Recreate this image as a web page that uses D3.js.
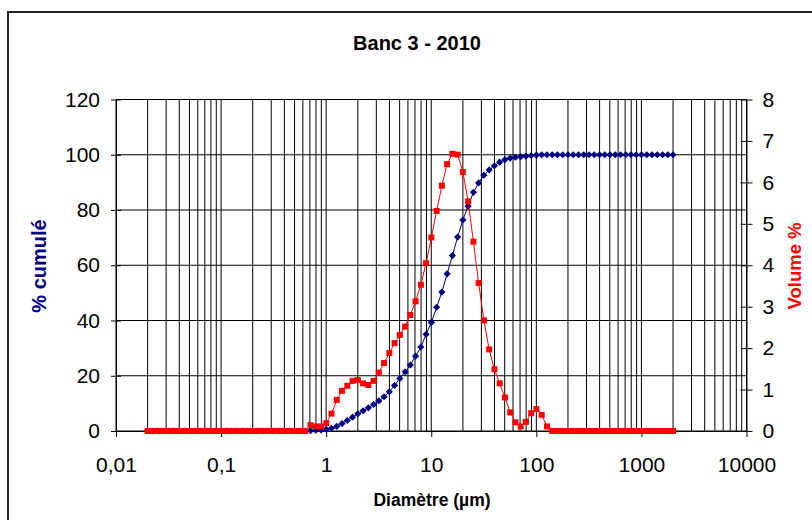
<!DOCTYPE html>
<html>
<head>
<meta charset="utf-8">
<script src="https://cdn.jsdelivr.net/npm/d3@7"></script>
<style>
  html, body { margin: 0; padding: 0; background: #fff; }
  svg { display: block; font-family: "Liberation Sans", Arial, sans-serif; }
</style>
</head>
<body>
<svg id="chart" width="812" height="520"></svg>
<script>
// ---- Data ----
const diameters = [
  0.02, 0.0224, 0.0252, 0.0283, 0.0317, 0.0356, 0.0399, 0.0448, 0.0502, 0.0564,
  0.0632, 0.071, 0.0796, 0.0893, 0.1002, 0.1125, 0.1262, 0.1416, 0.1589, 0.1783,
  0.2, 0.2244, 0.2518, 0.2825, 0.317, 0.3557, 0.3991, 0.4477, 0.5024, 0.5637,
  0.6325, 0.7096, 0.7962, 0.8934, 1.0024, 1.1247, 1.2619, 1.4159, 1.5887, 1.7825,
  2, 2.244, 2.518, 2.825, 3.17, 3.557, 3.991, 4.477, 5.024, 5.637,
  6.325, 7.096, 7.962, 8.934, 10.024, 11.247, 12.619, 14.159, 15.887, 17.825,
  20, 22.44, 25.179, 28.251, 31.698, 35.566, 39.905, 44.774, 50.238, 56.368,
  63.246, 70.963, 79.621, 89.337, 100.237, 112.468, 126.191, 141.589, 158.866, 178.25,
  200, 224.404, 251.785, 282.508, 316.979, 355.656, 399.052, 447.744, 502.377, 563.677,
  632.456, 709.627, 796.214, 893.367, 1002.374, 1124.683, 1261.915, 1415.892, 1588.656, 1782.502,
  2000
];
const cumulative = [
  0, 0, 0, 0, 0, 0, 0, 0, 0, 0,
  0, 0, 0, 0, 0, 0, 0, 0, 0, 0,
  0, 0, 0, 0, 0, 0, 0, 0, 0, 0,
  0, 0.1, 0.3, 0.4, 0.6, 1.0, 1.7, 2.7, 3.8, 5.0,
  6.2, 7.3, 8.4, 9.6, 10.9, 12.4, 14.2, 16.5, 19.0, 21.4,
  23.9, 27.1, 30.4, 35.0, 39.3, 44.8, 50.3, 56.9, 63.5, 70.2,
  76.4, 81.4, 86.4, 89.8, 92.6, 94.5, 96.0, 97.3, 98.2, 98.8,
  99.1, 99.3, 99.5, 99.7, 99.9, 100, 100, 100, 100, 100,
  100, 100, 100, 100, 100, 100, 100, 100, 100, 100,
  100, 100, 100, 100, 100, 100, 100, 100, 100, 100,
  100
];
const volume = [
  0, 0, 0, 0, 0, 0, 0, 0, 0, 0,
  0, 0, 0, 0, 0, 0, 0, 0, 0, 0,
  0, 0, 0, 0, 0, 0, 0, 0, 0, 0,
  0, 0.14, 0.11, 0.11, 0.19, 0.42, 0.75, 0.97, 1.09, 1.21,
  1.23, 1.15, 1.11, 1.21, 1.41, 1.64, 1.88, 2.12, 2.32, 2.52,
  2.80, 3.13, 3.53, 4.05, 4.67, 5.31, 5.92, 6.44, 6.69, 6.67,
  6.25, 5.54, 4.57, 3.57, 2.67, 1.97, 1.49, 1.15, 0.81, 0.45,
  0.21, 0.11, 0.22, 0.43, 0.53, 0.39, 0.11, 0, 0, 0,
  0, 0, 0, 0, 0, 0, 0, 0, 0, 0,
  0, 0, 0, 0, 0, 0, 0, 0, 0, 0,
  0
];
const xTickValues = [0.01, 0.1, 1, 10, 100, 1000, 10000];
const xTickLabels = ["0,01", "0,1", "1", "10", "100", "1000", "10000"];
const yLeftTicks = [0, 20, 40, 60, 80, 100, 120];
const yRightTicks = [0, 1, 2, 3, 4, 5, 6, 7, 8];

const title = "Banc 3 - 2010";
const xTitle = "Diamètre (µm)";
const yLeftTitle = "% cumulé";
const yRightTitle = "Volume %";

const blue = "#000080", red = "#FF0000";

// ---- Scales ----
const svg = d3.select("#chart");
const x = d3.scaleLog().domain([0.01, 10000]).range([116, 746.5]);
const yL = d3.scaleLinear().domain([0, 120]).range([431, 99.5]);
const yR = d3.scaleLinear().domain([0, 8]).range([431, 99.5]);

// outer frame
svg.append("rect").attr("x", 8).attr("y", 12).attr("width", 820).attr("height", 530)
  .attr("fill", "none").attr("stroke", "#222").attr("stroke-width", 2);

// gridlines
const grid = svg.append("g");
grid.selectAll("line.v").data(x.ticks()).join("line")
  .attr("x1", d => x(d)).attr("x2", d => x(d))
  .attr("y1", yL(0)).attr("y2", yL(120))
  .attr("stroke", "#000").attr("stroke-width", 1);
grid.selectAll("line.h").data(yLeftTicks).join("line")
  .attr("x1", x(0.01)).attr("x2", x(10000))
  .attr("y1", d => yL(d)).attr("y2", d => yL(d))
  .attr("stroke", "#000").attr("stroke-width", 1);

// axes
function styleAxis(g) {
  g.select(".domain").attr("stroke", "#000").attr("stroke-width", 1);
  g.selectAll(".tick line").attr("stroke", "#000");
  g.selectAll(".tick text").attr("font-size", 21).attr("fill", "#000")
    .attr("font-family", "'Liberation Sans', Arial, sans-serif");
}
const axL = svg.append("g").attr("transform", `translate(${x(0.01)},0)`)
  .call(d3.axisLeft(yL).tickValues(yLeftTicks).tickSize(5).tickPadding(11).tickSizeOuter(0));
axL.selectAll(".tick line").attr("x1", 5);
styleAxis(axL);

const axR = svg.append("g").attr("transform", `translate(${x(10000)},0)`)
  .call(d3.axisRight(yR).tickValues(yRightTicks).tickSize(6).tickPadding(10).tickSizeOuter(0));
axR.selectAll(".tick line").attr("x1", -6);
styleAxis(axR);

const axB = svg.append("g").attr("transform", `translate(0,${yL(0)})`)
  .call(d3.axisBottom(x).tickValues(xTickValues).tickFormat((d, i) => xTickLabels[i])
    .tickSize(6).tickPadding(20).tickSizeOuter(0));
styleAxis(axB);

// series lines + markers
const lineB = d3.line().x((d, i) => x(diameters[i])).y(d => yL(d));
const lineR = d3.line().x((d, i) => x(diameters[i])).y(d => yR(d));

svg.append("path").datum(cumulative).attr("d", lineB)
  .attr("fill", "none").attr("stroke", blue).attr("stroke-width", 1);
svg.append("g").selectAll("path").data(cumulative).join("path")
  .attr("transform", (d, i) => `translate(${x(diameters[i])},${yL(d)})`)
  .attr("d", "M0,-3.6L3.6,0L0,3.6L-3.6,0Z").attr("fill", blue);

svg.append("path").datum(volume).attr("d", lineR)
  .attr("fill", "none").attr("stroke", red).attr("stroke-width", 1);
svg.append("g").selectAll("rect").data(volume).join("rect")
  .attr("x", (d, i) => x(diameters[i]) - 3).attr("y", d => yR(d) - 3)
  .attr("width", 6).attr("height", 6).attr("fill", red);

// titles
svg.append("text").attr("x", 417).attr("y", 50).attr("text-anchor", "middle")
  .attr("font-size", 20).attr("font-weight", "bold").text(title);
svg.append("text").attr("x", 432).attr("y", 506).attr("text-anchor", "middle")
  .attr("font-size", 17.5).attr("font-weight", "bold").text(xTitle);
svg.append("text").attr("transform", "translate(46,266) rotate(-90)")
  .attr("text-anchor", "middle").attr("font-size", 20).attr("font-weight", "bold")
  .attr("fill", blue).text(yLeftTitle);
svg.append("text").attr("transform", "translate(801,266) rotate(-90)")
  .attr("text-anchor", "middle").attr("font-size", 18.5).attr("font-weight", "bold")
  .attr("fill", red).text(yRightTitle);
</script>
</body>
</html>
